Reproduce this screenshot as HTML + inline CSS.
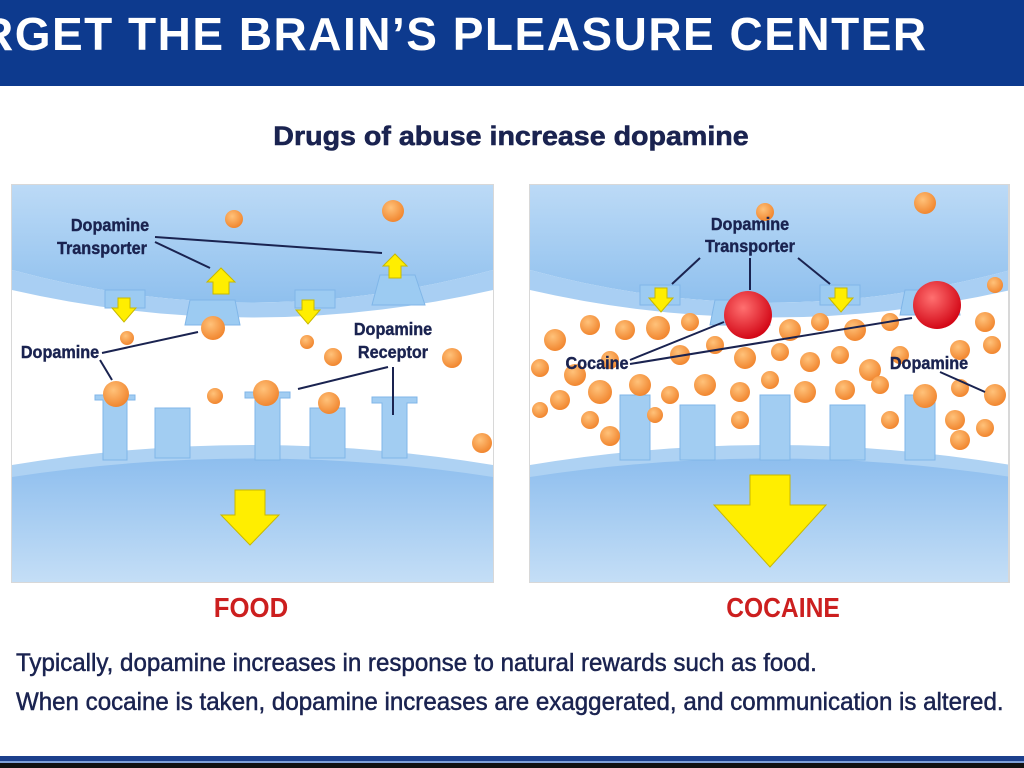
<!DOCTYPE html>
<html><head><meta charset="utf-8"><style>
body{margin:0;width:1024px;height:768px;overflow:hidden;background:#fff;font-family:"Liberation Sans",sans-serif}
svg{display:block}
</style></head><body>
<svg width="1024" height="768" viewBox="0 0 1024 768">
<defs>
<linearGradient id="bg" x1="0" y1="0" x2="0" y2="1"><stop offset="0" stop-color="#bcdaf6"/><stop offset="1" stop-color="#8fc0ee"/></linearGradient>
<linearGradient id="bg2" x1="0" y1="0" x2="0" y2="1"><stop offset="0" stop-color="#8cbdee"/><stop offset="1" stop-color="#c4def6"/></linearGradient>
<radialGradient id="or" cx="0.4" cy="0.35" r="0.7"><stop offset="0" stop-color="#ffc27a"/><stop offset="1" stop-color="#f0822a"/></radialGradient>
<radialGradient id="rd" cx="0.4" cy="0.35" r="0.7"><stop offset="0" stop-color="#ff7070"/><stop offset="1" stop-color="#d00010"/></radialGradient>
<clipPath id="cl"><rect x="12" y="185" width="481" height="397"/></clipPath>
<clipPath id="cr"><rect x="530" y="185" width="478" height="397"/></clipPath>
<g id="panel">
<rect x="0" y="0" width="481" height="397" fill="#fff"/>
<path d="M0 0 H481 V85 Q240 150 0 85 Z" fill="url(#bg)"/>
<path d="M0 85 Q240 150 481 85 V105 Q240 160 0 105 Z" fill="#a9cff3"/>
<path d="M0 290 Q240 250 481 290 V397 H0 Z" fill="url(#bg2)"/>
<path d="M0 280 Q240 240 481 280 V292 Q240 255 0 292 Z" fill="#aed2f3"/>
</g>
</defs>
<rect x="0" y="0" width="1024" height="86" fill="#0d3a8e"/>
<text x="-20" y="50" font-size="46" font-weight="bold" fill="#fff" letter-spacing="1.5">RGET THE BRAIN’S PLEASURE CENTER</text>
<text x="511" y="145" text-anchor="middle" font-size="27" font-weight="bold" fill="#1a2350" stroke="#1a2350" stroke-width="0.6" transform="translate(511 0) scale(1.06 1) translate(-511 0)">Drugs of abuse increase dopamine</text>

<rect x="11" y="184" width="483" height="399" fill="#d8d8d8"/>
<rect x="529" y="184" width="481" height="399" fill="#d8d8d8"/>
<g clip-path="url(#cl)"><use href="#panel" x="12" y="185"/>
<g fill="#9ccbf2" stroke="#80b6e8"><path d="M190 300 L235 300 L240 325 L185 325 Z"/><path d="M380 275 L415 275 L425 305 L372 305 Z"/><rect x="105" y="290" width="40" height="18"/><rect x="295" y="290" width="40" height="18"/></g>
<g fill="#a2cdf2" stroke="#80b6e8"><path d="M95 395 h40 v5 h-8 v60 h-24 v-60 h-8z"/><path d="M155 408 h35 v50 h-35z"/><path d="M245 392 h45 v6 h-10 v62 h-25 v-62 h-10z"/><path d="M310 408 h35 v50 h-35z"/><path d="M372 397 h45 v6 h-10 v55 h-25 v-55 h-10z"/></g>
<g fill="#ffee00" stroke="#c8b800"><path d="M213 294 v-12 h-6 l14 -14 l14 14 h-6 v12z"/><path d="M389 278 v-12 h-6 l12 -12 l12 12 h-6 v12z"/><path d="M118 298 h12 v10 h6 l-12 14 l-12 -14 h6z"/><path d="M302 300 h12 v10 h6 l-12 14 l-12 -14 h6z"/><path d="M235 490 h30 v25 h14 l-29 30 l-29 -30 h14z"/></g>
<g fill="url(#or)"><circle cx="234" cy="219" r="9"/><circle cx="393" cy="211" r="11"/><circle cx="213" cy="328" r="12"/><circle cx="127" cy="338" r="7"/><circle cx="307" cy="342" r="7"/><circle cx="333" cy="357" r="9"/><circle cx="452" cy="358" r="10"/><circle cx="116" cy="394" r="13"/><circle cx="215" cy="396" r="8"/><circle cx="266" cy="393" r="13"/><circle cx="329" cy="403" r="11"/><circle cx="482" cy="443" r="10"/></g>
</g>
<g clip-path="url(#cr)"><use href="#panel" x="530" y="185"/>
<g fill="#9ccbf2" stroke="#80b6e8"><rect x="640" y="285" width="40" height="20"/><rect x="820" y="285" width="40" height="20"/><path d="M715 300 h50 l5 25 h-60z"/><path d="M905 290 h50 l5 25 h-60z"/></g>
<g fill="#a2cdf2" stroke="#80b6e8"><rect x="620" y="395" width="30" height="65"/><rect x="680" y="405" width="35" height="55"/><rect x="760" y="395" width="30" height="65"/><rect x="830" y="405" width="35" height="55"/><rect x="905" y="395" width="30" height="65"/></g>
<g fill="#ffee00" stroke="#c8b800"><path d="M655 288 h12 v10 h6 l-12 14 l-12 -14 h6z"/><path d="M835 288 h12 v10 h6 l-12 14 l-12 -14 h6z"/><path d="M750 475 h40 v30 h36 l-56 62 l-56 -62 h36z"/></g>
<g fill="url(#or)">
<circle cx="765" cy="212" r="9"/><circle cx="925" cy="203" r="11"/>
<circle cx="555" cy="340" r="11"/><circle cx="590" cy="325" r="10"/><circle cx="625" cy="330" r="10"/><circle cx="658" cy="328" r="12"/><circle cx="690" cy="322" r="9"/><circle cx="790" cy="330" r="11"/><circle cx="820" cy="322" r="9"/><circle cx="855" cy="330" r="11"/><circle cx="890" cy="322" r="9"/><circle cx="985" cy="322" r="10"/><circle cx="995" cy="285" r="8"/>
<circle cx="540" cy="368" r="9"/><circle cx="575" cy="375" r="11"/><circle cx="610" cy="360" r="9"/><circle cx="680" cy="355" r="10"/><circle cx="715" cy="345" r="9"/><circle cx="745" cy="358" r="11"/><circle cx="780" cy="352" r="9"/><circle cx="810" cy="362" r="10"/><circle cx="840" cy="355" r="9"/><circle cx="870" cy="370" r="11"/><circle cx="900" cy="355" r="9"/><circle cx="960" cy="350" r="10"/><circle cx="992" cy="345" r="9"/>
<circle cx="560" cy="400" r="10"/><circle cx="600" cy="392" r="12"/><circle cx="640" cy="385" r="11"/><circle cx="670" cy="395" r="9"/><circle cx="705" cy="385" r="11"/><circle cx="740" cy="392" r="10"/><circle cx="770" cy="380" r="9"/><circle cx="805" cy="392" r="11"/><circle cx="845" cy="390" r="10"/><circle cx="880" cy="385" r="9"/><circle cx="925" cy="396" r="12"/><circle cx="960" cy="388" r="9"/><circle cx="995" cy="395" r="11"/>
<circle cx="540" cy="410" r="8"/><circle cx="590" cy="420" r="9"/><circle cx="655" cy="415" r="8"/><circle cx="740" cy="420" r="9"/><circle cx="890" cy="420" r="9"/><circle cx="955" cy="420" r="10"/><circle cx="985" cy="428" r="9"/><circle cx="610" cy="436" r="10"/><circle cx="960" cy="440" r="10"/></g>
<g fill="url(#rd)"><circle cx="748" cy="315" r="24"/><circle cx="937" cy="305" r="24"/></g>
</g>
<g font-weight="bold" fill="#1a2350" font-size="18" stroke="#1a2350" stroke-width="0.4">
<text x="110" y="231" text-anchor="middle" transform="translate(110 0) scale(0.9 1) translate(-110 0)">Dopamine</text>
<text x="102" y="254" text-anchor="middle" transform="translate(102 0) scale(0.9 1) translate(-102 0)">Transporter</text>
<text x="60" y="358" text-anchor="middle" transform="translate(60 0) scale(0.9 1) translate(-60 0)">Dopamine</text>
<text x="393" y="335" text-anchor="middle" transform="translate(393 0) scale(0.9 1) translate(-393 0)">Dopamine</text>
<text x="393" y="358" text-anchor="middle" transform="translate(393 0) scale(0.9 1) translate(-393 0)">Receptor</text>
<text x="750" y="230" text-anchor="middle" transform="translate(750 0) scale(0.9 1) translate(-750 0)">Dopamine</text>
<text x="750" y="252" text-anchor="middle" transform="translate(750 0) scale(0.9 1) translate(-750 0)">Transporter</text>
<text x="597" y="369" text-anchor="middle" transform="translate(597 0) scale(0.9 1) translate(-597 0)">Cocaine</text>
<text x="929" y="369" text-anchor="middle" transform="translate(929 0) scale(0.9 1) translate(-929 0)">Dopamine</text>
</g>
<g stroke="#1a2350" stroke-width="2" fill="none">
<line x1="155" y1="237" x2="382" y2="253"/><line x1="155" y1="242" x2="210" y2="268"/>
<line x1="102" y1="353" x2="198" y2="332"/><line x1="100" y1="360" x2="112" y2="380"/>
<line x1="388" y1="367" x2="298" y2="389"/><line x1="393" y1="367" x2="393" y2="415"/>
<line x1="700" y1="258" x2="672" y2="284"/><line x1="750" y1="258" x2="750" y2="290"/><line x1="798" y1="258" x2="830" y2="284"/>
<line x1="630" y1="360" x2="724" y2="322"/><line x1="630" y1="364" x2="912" y2="318"/>
<line x1="940" y1="372" x2="985" y2="392"/>
</g>
<g font-weight="bold" fill="#cc1f1f" font-size="28">
<text x="251" y="617" text-anchor="middle" transform="translate(251 0) scale(0.92 1) translate(-251 0)">FOOD</text>
<text x="783" y="617" text-anchor="middle" transform="translate(783 0) scale(0.88 1) translate(-783 0)">COCAINE</text>
</g>
<g fill="#1a2350" font-size="25" stroke="#1a2350" stroke-width="0.5">
<text x="16" y="671" transform="translate(16 0) scale(0.965 1) translate(-16 0)">Typically, dopamine increases in response to natural rewards such as food.</text>
<text x="16" y="710" transform="translate(16 0) scale(0.965 1) translate(-16 0)">When cocaine is taken, dopamine increases are exaggerated, and communication is altered.</text>
</g>
<rect x="0" y="756" width="1024" height="5" fill="#1c3f8c"/>
<rect x="0" y="761" width="1024" height="2" fill="#7fa0d8"/>
<rect x="0" y="763" width="1024" height="5" fill="#111"/>
</svg>
</body></html>
